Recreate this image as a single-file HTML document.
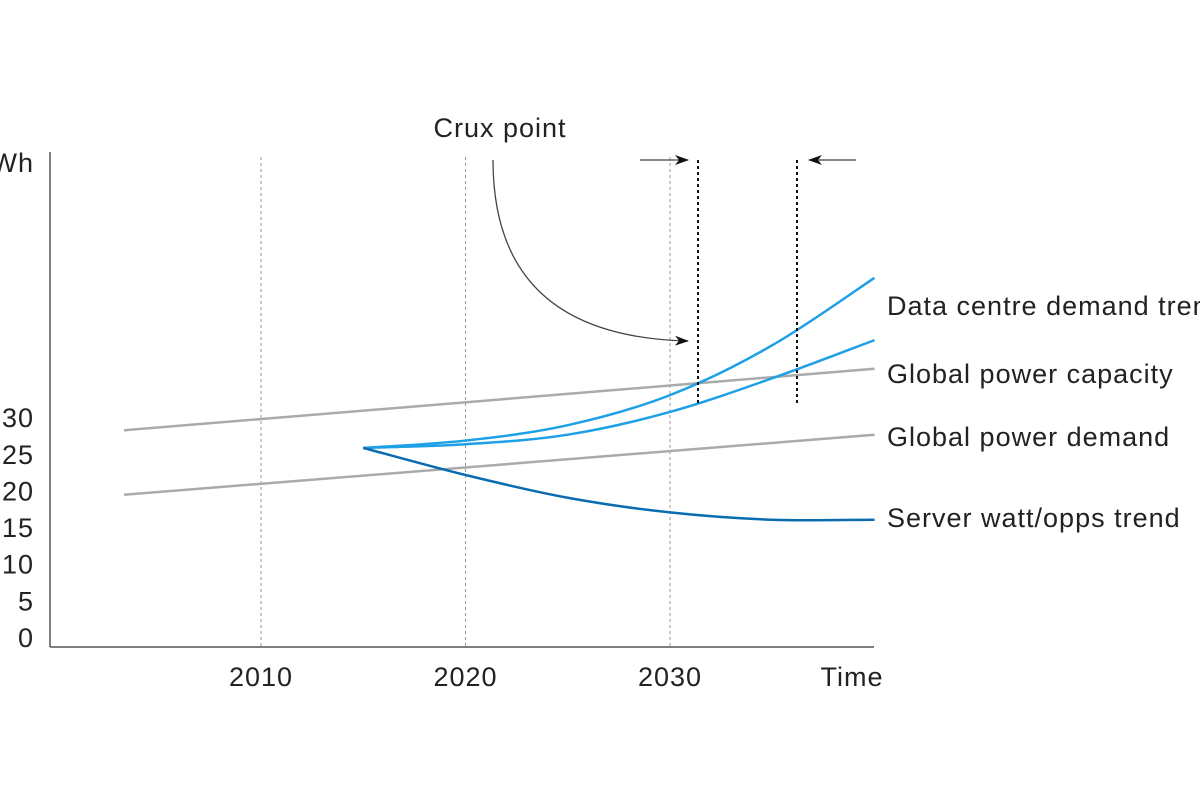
<!DOCTYPE html>
<html><head><meta charset="utf-8"><style>
html,body{margin:0;padding:0;background:#fff;}
svg{display:block;font-family:"Liberation Sans",sans-serif;}
text{letter-spacing:1px;}
</style></head><body>
<svg id="chart" width="1200" height="802" viewBox="0 0 1200 802">
<defs>
<marker id="ah" markerWidth="14" markerHeight="10" refX="13" refY="5" orient="auto" markerUnits="userSpaceOnUse">
<path d="M0,0 L14,5 L0,10 L4,5 Z" fill="#111"/>
</marker>
</defs>
<g id="grid"></g>
<g id="series"></g>
<line x1="50" y1="152" x2="50" y2="647" stroke="#555" stroke-width="1.5"/>
<line x1="50" y1="647" x2="874" y2="647" stroke="#555" stroke-width="1.5"/>
<g id="yticks"></g>
<g id="xticks"></g>
<text x="34" y="172" text-anchor="end" font-size="27" fill="#222">TWh</text>
<text x="852" y="686" text-anchor="middle" font-size="27" fill="#222">Time</text>
<text x="500" y="137" text-anchor="middle" font-size="27" fill="#222">Crux point</text>
<path d="M493,160 C493,280 560,338 688,341" fill="none" stroke="#444" stroke-width="1.3" marker-end="url(#ah)"/>
<line x1="640" y1="160" x2="688" y2="160" stroke="#444" stroke-width="1.3" marker-end="url(#ah)"/>
<line x1="856" y1="160" x2="809" y2="160" stroke="#444" stroke-width="1.3" marker-end="url(#ah)"/>
<line x1="698" y1="160" x2="698" y2="404" stroke="#111" stroke-width="2" stroke-dasharray="3,3"/>
<line x1="797" y1="160" x2="797" y2="404" stroke="#111" stroke-width="2" stroke-dasharray="3,3"/>
<g font-size="27" fill="#222">
<text x="887" y="315">Data centre demand trend</text>
<text x="887" y="383">Global power capacity</text>
<text x="887" y="446">Global power demand</text>
<text x="887" y="527">Server watt/opps trend</text>
</g>
</svg>
<script>
const yTicks=[0,5,10,15,20,25,30];
const xTicks=[2010,2020,2030];
const capYears=[2003.3,2040];
const capValues=[28.2,36.6];
const demYears=[2003.3,2040];
const demValues=[19.4,27.6];
const curveYears=[2015,2020,2025,2030,2035,2040];
const dataCentre=[25.8,26.8,28.9,33.0,39.8,49.0];
const capBlue=[25.8,26.3,27.6,30.7,35.3,40.5];
const server=[25.8,22.1,19.0,17.0,16.0,16.0];

const NS='http://www.w3.org/2000/svg';
function x(yr){return 261+(yr-2010)*20.45;}
function y(v){return 637-7.33*v;}
function mk(tag,attrs,parent){const e=document.createElementNS(NS,tag);for(const k in attrs)e.setAttribute(k,attrs[k]);parent.appendChild(e);return e;}
const grid=document.getElementById('grid'),series=document.getElementById('series');
const yt=document.getElementById('yticks'),xt=document.getElementById('xticks');
xTicks.forEach(t=>{
  const l=mk('line',{x1:x(t),x2:x(t),y1:157,y2:647,stroke:'#999','stroke-width':1,'stroke-dasharray':'3,3'},grid);
  
  
  const tx=mk('text',{x:x(t),y:686,'text-anchor':'middle','font-size':27,fill:'#222'},xt);
  tx.textContent=t;
  
  
});
yTicks.forEach(t=>{
  const tx=mk('text',{x:34,y:y(t)+10,'text-anchor':'end','font-size':27,fill:'#222'},yt);
  tx.textContent=t;
  
  
});
function smooth(xs,vs){
  const p=xs.map((a,i)=>[x(a),y(vs[i])]);
  let d='M'+p[0][0]+','+p[0][1];
  for(let i=0;i<p.length-1;i++){
    const p0=p[i-1]||p[i],p1=p[i],p2=p[i+1],p3=p[i+2]||p2;
    const c1=[p1[0]+(p2[0]-p0[0])/6,p1[1]+(p2[1]-p0[1])/6];
    const c2=[p2[0]-(p3[0]-p1[0])/6,p2[1]-(p3[1]-p1[1])/6];
    d+=' C'+c1+' '+c2+' '+p2;
  }
  return d;
}
const l1=mk('line',{x1:x(capYears[0]),y1:y(capValues[0]),x2:x(capYears[1]),y2:y(capValues[1]),stroke:'#aaa','stroke-width':2.5},series);


const l2=mk('line',{x1:x(demYears[0]),y1:y(demValues[0]),x2:x(demYears[1]),y2:y(demValues[1]),stroke:'#aaa','stroke-width':2.5},series);


const c1=mk('path',{d:smooth(curveYears,dataCentre),fill:'none',stroke:'#1ea0e6','stroke-width':2.5},series);


const c2=mk('path',{d:smooth(curveYears,capBlue),fill:'none',stroke:'#1ea0e6','stroke-width':2.5},series);


const c3=mk('path',{d:smooth(curveYears,server),fill:'none',stroke:'#0a6cb0','stroke-width':2.5},series);


</script>
</body></html>
